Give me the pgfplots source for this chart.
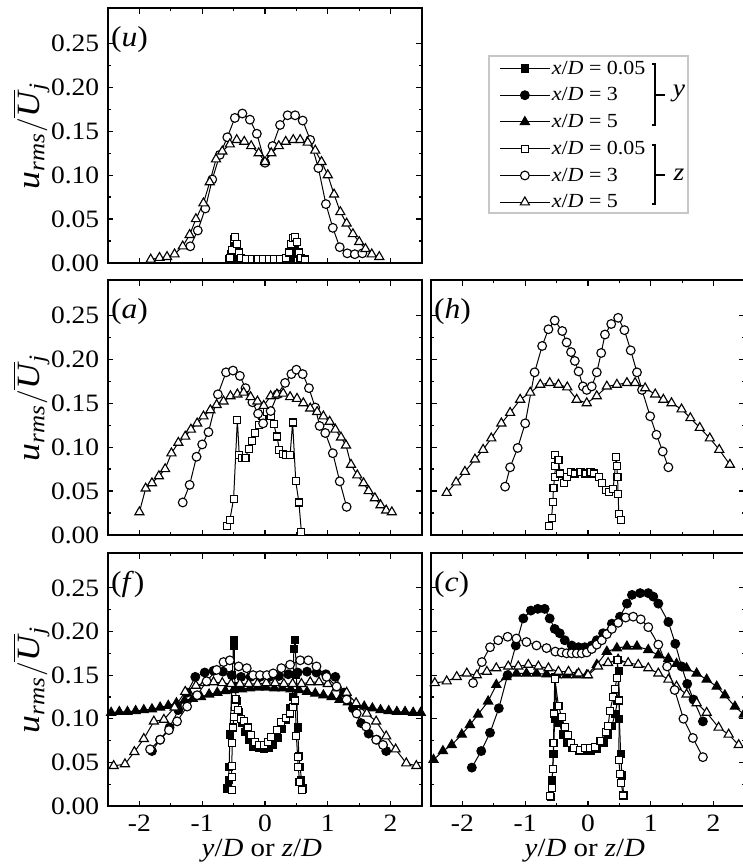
\documentclass[border=0pt]{standalone}
\usepackage{pgfplots}
\pgfplotsset{compat=1.18}
\usepackage{amsmath}
\usepackage{fontspec}
\setmainfont{Liberation Serif}[FakeStretch=1.1]
\newcommand{\tfs}{\fontsize{10}{11}\selectfont}
\pgfplotsset{
  panel/.style={
    scale only axis, width=125.6pt, height=102pt,
    xmin=-2.5, xmax=2.5, ymin=0, ymax=0.29,
    xtick={-2,-1,0,1,2}, minor x tick num=1,
    ytick={0,0.05,0.1,0.15,0.2,0.25}, minor y tick num=1,
    tick align=inside, major tick length=2.2pt, minor tick length=1.3pt,
    every tick/.style={black, line width=0.45pt},
    axis line style={line width=0.55pt},
    ticklabel style={font=\tfs},
    /pgf/number format/assume math mode=true,
    yticklabel style={/pgf/number format/.cd, fixed, fixed zerofill, precision=2},
    xticklabel style={/pgf/number format/.cd, fixed, precision=0},
    every axis plot/.append style={line width=0.4pt, black},
    legend image code/.code={\draw[mark repeat=2,mark phase=2] plot coordinates {(0cm,0cm) (0.35cm,0cm) (0.7cm,0cm)};},
  },
  leftp/.style={panel,
    ylabel={\fontsize{13}{14}\selectfont $\text{\textit{u}}_{\text{\textit{rms}}}/\overline{\text{\textit{U}}}_{\text{\textit{j}}}$},
    ylabel style={at={(axis description cs:-0.245,0.5)}, anchor=center}},
  rightp/.style={panel, yticklabels={}},
  notx/.style={xticklabels={}},
  withx/.style={xlabel={\fontsize{10.5}{11}\selectfont\textit{y}/\textit{D} or \textit{z}/\textit{D}},
    xlabel style={at={(axis description cs:0.49,-0.178)}, anchor=center}},
  ys/.style={mark=square*, mark size=1.4pt, mark options={fill=black, line width=0.45pt}},
  yc/.style={mark=*, mark size=1.75pt, mark options={fill=black, line width=0.45pt}},
  yt/.style={mark=triangle*, mark size=2.1pt, mark options={fill=black, line width=0.45pt}},
  zs/.style={mark=square*, mark size=1.4pt, mark options={fill=white, line width=0.45pt}},
  zc/.style={mark=*, mark size=1.75pt, mark options={fill=white, line width=0.45pt}},
  zt/.style={mark=triangle*, mark size=2.1pt, mark options={fill=white, line width=0.45pt}},
}
\newcommand{\plab}[1]{\node[anchor=west, inner sep=0pt, font=\fontsize{11.5}{12}\selectfont] at (axis description cs:0.008,0.875) {(\textit{#1})};}
\begin{document}
\begin{tikzpicture}
\path[use as bounding box] (0pt,0pt) rectangle (297.2pt,-346.4pt);
% ---------------- (u)
\begin{axis}[leftp, notx, at={(43.2pt,-3.2pt)}, anchor=north west,
  legend style={at={(axis description cs:1.2452,0.8173)}, anchor=north west, draw=none, fill=none,
    inner sep=0pt, row sep=0pt, font=\fontsize{8}{9}\selectfont,
    nodes={inner sep=0.6pt, text height=7pt, text depth=2.5pt}},
  legend cell align=left]
\addlegendimage{ys}\addlegendentry{\textit{x}/\textit{D} = 0.05}
\addlegendimage{yc}\addlegendentry{\textit{x}/\textit{D} = 3}
\addlegendimage{yt}\addlegendentry{\textit{x}/\textit{D} = 5}
\addlegendimage{zs}\addlegendentry{\textit{x}/\textit{D} = 0.05}
\addlegendimage{zc}\addlegendentry{\textit{x}/\textit{D} = 3}
\addlegendimage{zt}\addlegendentry{\textit{x}/\textit{D} = 5}
\addplot[ys, forget plot] coordinates {(-0.58,0.004)(-0.54,0.010)(-0.50,0.020)(-0.47,0.012)(-0.43,0.005)(-0.35,0.004)(-0.25,0.004)(-0.15,0.004)(-0.05,0.004)(0.05,0.004)(0.15,0.004)(0.25,0.004)(0.35,0.004)(0.42,0.005)(0.45,0.012)(0.48,0.019)(0.52,0.010)(0.56,0.004)};
\addplot[zs, forget plot] coordinates {(-0.56,0.006)(-0.53,0.015)(-0.50,0.027)(-0.48,0.030)(-0.45,0.022)(-0.42,0.012)(-0.38,0.006)(-0.30,0.005)(-0.21,0.005)(-0.12,0.005)(-0.03,0.005)(0.06,0.005)(0.15,0.005)(0.24,0.005)(0.33,0.006)(0.38,0.012)(0.42,0.022)(0.45,0.028)(0.48,0.030)(0.51,0.024)(0.54,0.012)(0.58,0.006)(0.64,0.004)};
\addplot[zc, forget plot] coordinates {(-1.19,0.019)(-1.07,0.037)(-0.95,0.062)(-0.84,0.095)(-0.72,0.123)(-0.60,0.143)(-0.48,0.165)(-0.36,0.170)(-0.24,0.163)(-0.13,0.147)(0.0,0.114)(0.12,0.133)(0.24,0.157)(0.36,0.168)(0.48,0.168)(0.60,0.162)(0.72,0.140)(0.85,0.108)(0.97,0.067)(1.08,0.040)(1.19,0.018)(1.31,0.011)(1.43,0.010)(1.55,0.011)};
\addplot[zt, forget plot] coordinates {(-1.82,0.004)(-1.68,0.006)(-1.56,0.007)(-1.44,0.010)(-1.31,0.019)(-1.20,0.032)(-1.10,0.050)(-0.98,0.068)(-0.88,0.092)(-0.78,0.118)(-0.68,0.127)(-0.56,0.135)(-0.45,0.140)(-0.33,0.138)(-0.22,0.133)(-0.10,0.125)(0.0,0.115)(0.10,0.125)(0.22,0.133)(0.33,0.138)(0.45,0.140)(0.56,0.140)(0.68,0.137)(0.80,0.128)(0.90,0.115)(1.00,0.100)(1.10,0.078)(1.20,0.058)(1.30,0.045)(1.40,0.033)(1.50,0.024)(1.60,0.016)(1.70,0.010)(1.82,0.007)};
\plab{u}
\end{axis}
% ---------------- (a)
\begin{axis}[leftp, notx, at={(43.2pt,-112pt)}, anchor=north west]
\addplot[zs] coordinates {(-0.61,0.010)(-0.56,0.017)(-0.50,0.041)(-0.44,0.131)(-0.41,0.091)(-0.37,0.088)(-0.31,0.088)(-0.26,0.098)(-0.21,0.107)(-0.16,0.116)(-0.10,0.125)(-0.04,0.135)(0.03,0.140)(0.09,0.135)(0.14,0.126)(0.19,0.112)(0.23,0.097)(0.29,0.092)(0.34,0.091)(0.40,0.091)(0.44,0.128)(0.49,0.061)(0.54,0.037)(0.58,0.003)};
\addplot[zc] coordinates {(-1.31,0.037)(-1.20,0.057)(-1.09,0.089)(-1.00,0.103)(-0.90,0.117)(-0.75,0.160)(-0.62,0.185)(-0.51,0.187)(-0.40,0.181)(-0.31,0.167)(-0.20,0.151)(-0.11,0.138)(-0.03,0.127)(0.09,0.141)(0.20,0.160)(0.32,0.173)(0.42,0.183)(0.50,0.188)(0.60,0.183)(0.70,0.167)(0.80,0.145)(0.87,0.124)(0.96,0.116)(1.08,0.093)(1.19,0.061)(1.30,0.032)};
\addplot[zt] coordinates {(-2.00,0.026)(-1.90,0.053)(-1.80,0.059)(-1.69,0.067)(-1.59,0.075)(-1.49,0.093)(-1.38,0.105)(-1.27,0.112)(-1.18,0.120)(-1.08,0.127)(-0.98,0.135)(-0.87,0.142)(-0.77,0.148)(-0.66,0.152)(-0.55,0.158)(-0.44,0.160)(-0.34,0.162)(-0.23,0.157)(-0.12,0.152)(-0.02,0.147)(0.09,0.158)(0.19,0.160)(0.29,0.161)(0.40,0.157)(0.51,0.155)(0.61,0.150)(0.72,0.144)(0.83,0.140)(0.93,0.135)(1.03,0.129)(1.12,0.120)(1.21,0.111)(1.29,0.102)(1.37,0.080)(1.47,0.068)(1.57,0.059)(1.65,0.050)(1.75,0.042)(1.84,0.034)(1.93,0.028)(2.02,0.026)};
\plab{a}
\end{axis}
% ---------------- (h)
\begin{axis}[rightp, notx, at={(172.4pt,-112pt)}, anchor=north west]
\addplot[zs] coordinates {(-0.62,0.010)(-0.58,0.019)(-0.56,0.038)(-0.55,0.053)(-0.53,0.066)(-0.52,0.078)(-0.52,0.091)(-0.47,0.085)(-0.44,0.070)(-0.38,0.059)(-0.33,0.066)(-0.27,0.072)(-0.20,0.070)(-0.12,0.072)(-0.04,0.070)(0.04,0.072)(0.10,0.070)(0.18,0.066)(0.23,0.059)(0.29,0.051)(0.34,0.049)(0.40,0.052)(0.45,0.089)(0.46,0.078)(0.47,0.066)(0.48,0.047)(0.49,0.024)(0.53,0.017)};
\addplot[zc] coordinates {(-1.32,0.055)(-1.24,0.077)(-1.12,0.099)(-1.00,0.127)(-0.85,0.185)(-0.73,0.215)(-0.63,0.234)(-0.53,0.244)(-0.41,0.232)(-0.34,0.219)(-0.27,0.208)(-0.21,0.198)(-0.15,0.186)(-0.08,0.169)(-0.02,0.165)(0.06,0.169)(0.14,0.185)(0.21,0.207)(0.27,0.228)(0.37,0.240)(0.48,0.247)(0.58,0.233)(0.68,0.210)(0.78,0.185)(0.86,0.165)(0.99,0.135)(1.09,0.114)(1.19,0.095)(1.28,0.077)};
\addplot[zt] coordinates {(-2.25,0.048)(-2.10,0.060)(-1.96,0.072)(-1.80,0.086)(-1.67,0.097)(-1.54,0.110)(-1.38,0.127)(-1.24,0.139)(-1.08,0.154)(-0.92,0.162)(-0.76,0.171)(-0.61,0.173)(-0.47,0.171)(-0.33,0.168)(-0.18,0.154)(-0.02,0.150)(0.14,0.158)(0.30,0.169)(0.46,0.171)(0.62,0.173)(0.75,0.173)(0.91,0.167)(1.07,0.160)(1.20,0.154)(1.33,0.150)(1.49,0.143)(1.63,0.133)(1.78,0.122)(1.94,0.110)(2.09,0.097)(2.26,0.080)};
\plab{h}
\end{axis}
% ---------------- (f)
\begin{axis}[leftp, withx, height=101.2pt, at={(43.2pt,-221.2pt)}, anchor=north west]
\addplot[yt] coordinates {(-2.45,0.107)(-2.32,0.108)(-2.19,0.108)(-2.06,0.109)(-1.93,0.110)(-1.80,0.111)(-1.67,0.113)(-1.54,0.115)(-1.41,0.118)(-1.28,0.121)(-1.15,0.123)(-1.02,0.125)(-0.89,0.128)(-0.76,0.130)(-0.63,0.132)(-0.50,0.133)(-0.37,0.134)(-0.24,0.135)(-0.11,0.136)(0.02,0.136)(0.15,0.135)(0.28,0.135)(0.41,0.134)(0.54,0.133)(0.67,0.131)(0.80,0.129)(0.93,0.127)(1.06,0.125)(1.19,0.122)(1.32,0.119)(1.45,0.116)(1.58,0.114)(1.71,0.112)(1.84,0.110)(1.97,0.109)(2.10,0.108)(2.23,0.108)(2.36,0.107)(2.48,0.107)};
\addplot[yc] coordinates {(-1.80,0.063)(-1.67,0.076)(-1.52,0.090)(-1.38,0.110)(-1.24,0.130)(-1.11,0.148)(-0.96,0.153)(-0.82,0.155)(-0.67,0.154)(-0.53,0.150)(-0.38,0.148)(-0.23,0.148)(-0.08,0.148)(0.07,0.148)(0.22,0.149)(0.37,0.151)(0.52,0.153)(0.67,0.154)(0.82,0.153)(0.97,0.151)(1.12,0.148)(1.26,0.130)(1.40,0.112)(1.53,0.095)(1.65,0.083)(1.78,0.076)(1.93,0.063)};
\addplot[ys] coordinates {(-0.60,0.020)(-0.58,0.030)(-0.57,0.045)(-0.56,0.082)(-0.52,0.150)(-0.50,0.190)(-0.49,0.184)(-0.48,0.137)(-0.45,0.120)(-0.42,0.108)(-0.37,0.095)(-0.32,0.085)(-0.26,0.076)(-0.19,0.068)(-0.10,0.066)(-0.02,0.065)(0.06,0.066)(0.13,0.070)(0.20,0.078)(0.27,0.088)(0.34,0.099)(0.40,0.112)(0.44,0.125)(0.46,0.180)(0.48,0.190)(0.50,0.150)(0.52,0.090)(0.54,0.057)(0.56,0.045)(0.58,0.030)(0.61,0.020)};
\addplot[zt] coordinates {(-2.41,0.046)(-2.23,0.048)(-2.08,0.062)(-1.93,0.077)(-1.77,0.097)(-1.61,0.099)(-1.44,0.113)(-1.27,0.131)(-1.10,0.138)(-0.96,0.141)(-0.82,0.142)(-0.68,0.141)(-0.54,0.140)(-0.40,0.140)(-0.26,0.140)(-0.12,0.140)(0.02,0.141)(0.16,0.141)(0.30,0.140)(0.44,0.140)(0.58,0.140)(0.72,0.142)(0.86,0.142)(1.00,0.140)(1.14,0.135)(1.30,0.130)(1.45,0.118)(1.62,0.106)(1.77,0.097)(1.93,0.080)(2.08,0.065)(2.25,0.049)(2.41,0.046)};
\addplot[zc] coordinates {(-1.83,0.065)(-1.67,0.076)(-1.53,0.087)(-1.40,0.097)(-1.24,0.114)(-1.08,0.127)(-0.93,0.143)(-0.77,0.156)(-0.66,0.165)(-0.56,0.167)(-0.42,0.160)(-0.29,0.158)(-0.19,0.150)(-0.08,0.150)(0.03,0.150)(0.13,0.152)(0.26,0.158)(0.40,0.162)(0.56,0.167)(0.69,0.167)(0.82,0.160)(0.98,0.148)(1.14,0.137)(1.30,0.122)(1.46,0.106)(1.61,0.091)(1.77,0.076)(1.88,0.070)};
\addplot[zs] coordinates {(-0.53,0.018)(-0.53,0.033)(-0.53,0.046)(-0.52,0.072)(-0.51,0.090)(-0.50,0.102)(-0.48,0.113)(-0.47,0.123)(-0.43,0.110)(-0.38,0.100)(-0.33,0.097)(-0.27,0.090)(-0.22,0.081)(-0.16,0.073)(-0.09,0.070)(-0.02,0.070)(0.05,0.073)(0.10,0.079)(0.19,0.087)(0.26,0.096)(0.34,0.101)(0.40,0.106)(0.45,0.113)(0.48,0.121)(0.50,0.080)(0.52,0.056)(0.53,0.045)(0.55,0.028)(0.59,0.018)};
\plab{f}
\end{axis}
% ---------------- (c)
\begin{axis}[rightp, withx, height=101.2pt, at={(172.4pt,-221.2pt)}, anchor=north west]
\addplot[yt] coordinates {(-2.46,0.053)(-2.31,0.063)(-2.17,0.070)(-2.01,0.082)(-1.88,0.093)(-1.75,0.105)(-1.59,0.120)(-1.46,0.139)(-1.30,0.148)(-1.14,0.152)(-0.98,0.152)(-0.82,0.152)(-0.66,0.151)(-0.50,0.150)(-0.34,0.150)(-0.18,0.150)(-0.02,0.150)(0.14,0.162)(0.30,0.177)(0.46,0.181)(0.62,0.183)(0.78,0.183)(0.96,0.179)(1.12,0.173)(1.28,0.169)(1.41,0.163)(1.57,0.158)(1.73,0.152)(1.89,0.145)(2.05,0.137)(2.18,0.127)(2.34,0.114)(2.48,0.105)};
\addplot[yc] coordinates {(-1.85,0.044)(-1.70,0.063)(-1.56,0.084)(-1.42,0.112)(-1.28,0.150)(-1.15,0.184)(-1.03,0.215)(-0.91,0.224)(-0.80,0.226)(-0.69,0.226)(-0.61,0.215)(-0.53,0.203)(-0.45,0.198)(-0.37,0.190)(-0.26,0.184)(-0.15,0.182)(-0.05,0.182)(0.06,0.184)(0.14,0.190)(0.24,0.198)(0.38,0.209)(0.51,0.217)(0.62,0.232)(0.70,0.242)(0.83,0.244)(0.96,0.244)(1.04,0.240)(1.12,0.232)(1.28,0.211)(1.39,0.186)(1.49,0.160)(1.58,0.140)(1.68,0.122)(1.83,0.097)};
\addplot[ys] coordinates {(-0.59,0.010)(-0.57,0.030)(-0.55,0.060)(-0.53,0.100)(-0.52,0.148)(-0.50,0.115)(-0.46,0.095)(-0.40,0.082)(-0.33,0.072)(-0.25,0.066)(-0.15,0.063)(-0.05,0.063)(0.05,0.063)(0.15,0.065)(0.25,0.072)(0.32,0.082)(0.38,0.092)(0.43,0.105)(0.47,0.120)(0.49,0.155)(0.50,0.100)(0.52,0.060)(0.54,0.035)(0.57,0.012)};
\addplot[zt] coordinates {(-2.44,0.141)(-2.25,0.143)(-2.09,0.148)(-1.93,0.152)(-1.77,0.150)(-1.61,0.154)(-1.46,0.158)(-1.27,0.160)(-1.11,0.160)(-0.95,0.162)(-0.79,0.160)(-0.63,0.158)(-0.47,0.154)(-0.31,0.154)(-0.15,0.152)(0.00,0.150)(0.16,0.160)(0.32,0.164)(0.48,0.168)(0.64,0.164)(0.80,0.162)(0.96,0.158)(1.12,0.152)(1.28,0.145)(1.41,0.137)(1.57,0.128)(1.73,0.118)(1.89,0.107)(2.08,0.090)(2.24,0.082)(2.40,0.070)};
\addplot[zc] coordinates {(-1.83,0.141)(-1.69,0.165)(-1.56,0.182)(-1.43,0.190)(-1.28,0.194)(-1.14,0.192)(-0.98,0.188)(-0.82,0.184)(-0.66,0.181)(-0.52,0.177)(-0.42,0.176)(-0.34,0.175)(-0.26,0.175)(-0.18,0.175)(-0.10,0.175)(-0.02,0.176)(0.06,0.180)(0.14,0.185)(0.22,0.190)(0.30,0.197)(0.38,0.203)(0.48,0.210)(0.60,0.216)(0.72,0.217)(0.84,0.214)(0.96,0.205)(1.12,0.185)(1.26,0.160)(1.38,0.133)(1.52,0.100)(1.67,0.078)(1.83,0.056)};
\addplot[zs] coordinates {(-0.61,0.011)(-0.58,0.021)(-0.56,0.042)(-0.55,0.072)(-0.54,0.106)(-0.53,0.146)(-0.47,0.115)(-0.42,0.102)(-0.37,0.091)(-0.32,0.081)(-0.27,0.072)(-0.22,0.066)(-0.13,0.064)(-0.05,0.066)(0.03,0.066)(0.11,0.068)(0.20,0.075)(0.28,0.085)(0.32,0.092)(0.35,0.109)(0.40,0.125)(0.43,0.134)(0.46,0.147)(0.47,0.167)(0.50,0.121)(0.49,0.053)(0.51,0.037)(0.53,0.026)(0.56,0.012)};
\plab{c}
\end{axis}
% ---------------- legend frame and brackets
\draw[black!22, line width=0.5pt] (195.6pt,-22.4pt) rectangle (275.2pt,-85.2pt);
\draw[line width=0.45pt] (260.7pt,-25.6pt) -- (262pt,-25.6pt) -- (262pt,-50pt) -- (260.7pt,-50pt);
\draw[line width=0.45pt] (262pt,-38pt) -- (266pt,-38pt);
\node[font=\fontsize{10}{11}\selectfont\itshape] at (271.6pt,-37.4pt) {y};
\draw[line width=0.45pt] (260.7pt,-58pt) -- (262pt,-58pt) -- (262pt,-81.6pt) -- (260.7pt,-81.6pt);
\draw[line width=0.45pt] (262pt,-70pt) -- (266pt,-70pt);
\node[font=\fontsize{10}{11}\selectfont\itshape] at (271.6pt,-70pt) {z};
\end{tikzpicture}
\end{document}
